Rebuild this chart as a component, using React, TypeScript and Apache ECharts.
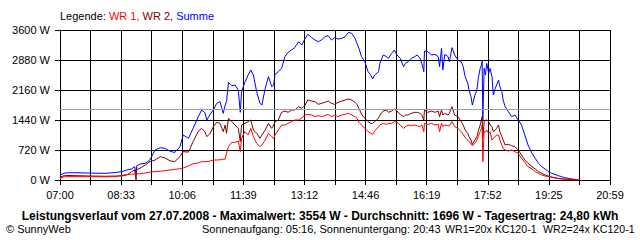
import React, { useEffect, useRef } from "react";
import * as echarts from "echarts";

// Time stamps of the measured values (local time)
const times = [
  "07:00", "07:08", "07:23", "07:48", "08:09", "08:25", "08:34", "08:42", "08:49", "08:54",
  "08:56", "08:57", "09:02", "09:10", "09:17", "09:25", "09:33", "09:40", "09:48", "09:55",
  "10:03", "10:08", "10:16", "10:23", "10:31", "10:36", "10:41", "10:44", "10:49", "10:54",
  "10:59", "11:04", "11:07", "11:09", "11:12", "11:14", "11:17", "11:22", "11:27", "11:32",
  "11:35", "11:37", "11:42", "11:47", "11:51", "11:55", "12:00", "12:05", "12:08", "12:13",
  "12:18", "12:23", "12:26", "12:28", "12:33", "12:38", "12:43", "12:48", "12:53", "12:58",
  "13:04", "13:09", "13:14", "13:18", "13:24", "13:29", "13:34", "13:39", "13:44", "13:49",
  "13:54", "13:59", "14:04", "14:10", "14:15", "14:20", "14:25", "14:30", "14:33", "14:36",
  "14:40", "14:45", "14:50", "14:54", "14:57", "15:00", "15:06", "15:08", "15:13", "15:18",
  "15:21", "15:26", "15:30", "15:34", "15:39", "15:44", "15:47", "15:51", "15:56", "16:01",
  "16:05", "16:09", "16:12", "16:15", "16:16", "16:21", "16:27", "16:32", "16:37", "16:39",
  "16:42", "16:44", "16:47", "16:52", "16:54", "16:58", "17:02", "17:07", "17:12", "17:15",
  "17:18", "17:22", "17:24", "17:27", "17:29", "17:33", "17:36", "17:38", "17:41", "17:43",
  "17:44", "17:45", "17:47", "17:49", "17:51", "17:54", "17:56", "17:59", "18:01", "18:04",
  "18:06", "18:09", "18:11", "18:14", "18:16", "18:19", "18:24", "18:29", "18:34", "18:39",
  "18:44", "18:49", "18:54", "19:00", "19:05", "19:10", "19:15", "19:20", "19:25", "19:30",
  "19:35", "19:40", "19:45", "19:50", "19:55", "20:01", "20:06", "20:11",
];

// WR 1 (W)
const wr1 = [
  50, 80, 80, 80, 75, 80, 110, 130, 140, 140,
  120, 145, 150, 170, 190, 200, 210, 225, 240, 255,
  270, 290, 336, 390, 410, 440, 440, 440, 456, 480,
  480, 485, 490, 500, 500, 640, 800, 904, 904, 936,
  680, 1000, 1160, 1080, 1240, 1040, 880, 800, 840, 960,
  1120, 1040, 1000, 1080, 1200, 1320, 1320, 1360, 1400, 1440,
  1440, 1496, 1560, 1576, 1560, 1520, 1544, 1520, 1544, 1576,
  1520, 1560, 1520, 1560, 1576, 1600, 1560, 1520, 1480, 1384,
  1320, 1240, 1160, 1120, 1096, 1176, 1280, 1320, 1360, 1336,
  1360, 1360, 1400, 1384, 1320, 1240, 1280, 1320, 1304, 1320,
  1304, 1280, 1320, 1160, 1360, 1336, 1360, 1320, 1336, 1160,
  1360, 1280, 1320, 1304, 1300, 1400, 1280, 1240, 1160, 1096,
  1016, 960, 920, 880, 824, 880, 960, 1040, 1160, 1240,
  1320, 440, 1160, 1150, 1200, 1120, 1160, 960, 1000, 1040,
  1080, 1080, 960, 840, 760, 720, 696, 720, 680, 640,
  520, 424, 320, 264, 200, 160, 120, 96, 80, 64,
  48, 32, 24, 16, 8, 0, 0, 0,
];

// WR 2 (W)
const wr2 = [
  70, 110, 105, 95, 90, 95, 100, 120, 200, 240,
  0, 250, 280, 360, 440, 480, 560, 530, 460, 440,
  560, 680, 670, 920, 1170, 1240, 1160, 1040, 1120, 1280,
  1384, 1360, 1240, 1160, 1320, 1120, 1480, 1400, 1320, 1240,
  920, 1320, 1360, 1400, 1440, 1200, 1120, 1000, 1080, 1200,
  1360, 1240, 1320, 1400, 1440, 1624, 1656, 1624, 1680, 1680,
  1760, 1720, 1800, 1920, 1896, 1880, 1816, 1840, 1864, 1896,
  1840, 1816, 1864, 1896, 1920, 1944, 1920, 1864, 1816, 1720,
  1576, 1480, 1400, 1360, 1360, 1400, 1480, 1560, 1656, 1680,
  1624, 1656, 1704, 1656, 1576, 1520, 1560, 1560, 1600, 1624,
  1624, 1600, 1560, 1440, 1680, 1624, 1656, 1624, 1656, 1520,
  1680, 1560, 1600, 1560, 1600, 1760, 1560, 1520, 1400, 1320,
  1200, 1120, 1040, 960, 856, 960, 1040, 1176, 1320, 1440,
  1520, 1000, 1400, 1440, 1440, 1400, 1320, 1280, 1160, 1200,
  1240, 1320, 1160, 1040, 960, 840, 856, 824, 800, 720,
  600, 480, 400, 320, 264, 200, 160, 120, 96, 72,
  56, 40, 32, 24, 16, 8, 0, 0,
];

// Summe (W)
const summe = [
  120, 170, 175, 165, 160, 180, 200, 240, 264, 320,
  140, 340, 384, 400, 480, 720, 776, 760, 690, 660,
  800, 1080, 1000, 1240, 1520, 1680, 1616, 1440, 1576, 1680,
  1840, 1880, 1720, 1600, 1800, 1880, 2344, 2264, 2280, 2160,
  1624, 2120, 2344, 2520, 2640, 2520, 2120, 1840, 1800, 2200,
  2480, 2240, 2280, 2536, 2600, 2680, 2960, 3064, 3120, 3176,
  3320, 3240, 3400, 3496, 3416, 3360, 3320, 3360, 3440, 3464,
  3360, 3416, 3384, 3400, 3440, 3544, 3520, 3400, 3280, 3160,
  2960, 2840, 2600, 2520, 2424, 2520, 2600, 2800, 3000, 2960,
  2920, 3040, 3120, 3000, 2920, 2720, 2800, 2840, 2920, 2960,
  3000, 2920, 2800, 2600, 3096, 3080, 3000, 3016, 2960, 2720,
  3160, 2640, 3016, 2960, 2840, 3176, 3000, 2880, 2840, 2720,
  2480, 2320, 2160, 2000, 1800, 2040, 2160, 2440, 2680, 2760,
  2856, 1440, 2680, 2520, 2800, 2560, 2680, 2480, 2040, 2200,
  2280, 2400, 2240, 2120, 1920, 1760, 1640, 1520, 1560, 1440,
  1320, 1080, 840, 640, 520, 400, 320, 264, 200, 160,
  136, 104, 80, 56, 40, 24, 16, 0,
];

const average = 1696;
const dayStart = "07:00";
const dayEnd = "20:59";
const yMax = 3600;
const yStep = 720;

const legendLabel = "Legende: ";
const seriesNames = ["WR 1", "WR 2", "Summe"];
const titleText =
  "Leistungsverlauf vom 27.07.2008 - Maximalwert: 3554 W - Durchschnitt: 1696 W - Tagesertrag: 24,80 kWh";
const footerLeft = "© SunnyWeb";
const footerSun = "Sonnenaufgang: 05:16, Sonnenuntergang: 20:43";
const footerWr1 = "WR1=20x KC120-1";
const footerWr2 = "WR2=24x KC120-1";

const FONT = "'Liberation Sans', Arial, sans-serif";

const toAbs = (t: string) => {
  const [h, m] = t.split(":").map(Number);
  return h * 60 + m;
};
const startAbs = toAbs(dayStart);
const span = toAbs(dayEnd) - startAbs;
const xStep = span / 18;
const pad = (n: number) => (n < 10 ? "0" + n : "" + n);

export default function App() {
  const ref = useRef<HTMLDivElement>(null);

  useEffect(() => {
    if (!ref.current) return;
    const chart = echarts.init(ref.current, undefined, { renderer: "svg" });
    const pts = (vals: number[]) => times.map((t, i) => [toAbs(t) - startAbs, vals[i]]);
    const line = (name: string, vals: number[], color: string, extra: any = {}) => ({
      name,
      type: "line",
      data: pts(vals),
      showSymbol: false,
      symbol: "none",
      lineStyle: { color, width: 1 },
      itemStyle: { color },
      emphasis: { disabled: true },
      silent: true,
      ...extra,
    });
    const footText = (text: string, x: number, size = 11) => ({
      type: "text",
      x,
      y: 229,
      silent: true,
      style: {
        text,
        font: size + "px " + FONT,
        fill: "#000",
        textAlign: "left",
        align: "left",
        textVerticalAlign: "middle",
        verticalAlign: "middle",
      },
    });

    chart.setOption({
      animation: false,
      backgroundColor: "#ffffff",
      textStyle: { fontFamily: FONT },
      grid: { left: 60, right: 30, top: 30, bottom: 60, containLabel: false },
      xAxis: {
        type: "value",
        min: 0,
        max: span,
        interval: xStep,
        axisLine: { show: true, lineStyle: { color: "#000", width: 1 } },
        axisTick: { show: true, length: 5, lineStyle: { color: "#000" } },
        splitLine: { show: true, lineStyle: { color: "#000", width: 1 } },
        axisLabel: {
          color: "#000",
          fontSize: 11,
          fontFamily: FONT,
          margin: 9,
          showMinLabel: true,
          showMaxLabel: true,
          hideOverlap: false,
          formatter: (v: number) => {
            const idx = Math.round(v / xStep);
            if (idx % 2 !== 0) return "";
            const tot = startAbs + Math.floor(v + 1e-6);
            return pad(Math.floor(tot / 60)) + ":" + pad(tot % 60);
          },
        },
      },
      yAxis: {
        type: "value",
        min: 0,
        max: yMax,
        interval: yStep,
        axisLine: { show: true, lineStyle: { color: "#000", width: 1 } },
        axisTick: { show: true, length: 5, lineStyle: { color: "#000" } },
        splitLine: { show: true, lineStyle: { color: "#000", width: 1 } },
        axisLabel: {
          color: "#000",
          fontSize: 11,
          fontFamily: FONT,
          margin: 10,
          formatter: (v: number) => v + " W",
        },
      },
      series: [
        line(seriesNames[2], summe, "#0000ff", {
          markLine: {
            silent: true,
            symbol: ["none", "none"],
            label: { show: false },
            lineStyle: { color: "#a0a0a0", type: "solid", width: 1 },
            emphasis: { disabled: true },
            data: [{ yAxis: average }],
          },
        }),
        line(seriesNames[1], wr2, "#800000"),
        line(seriesNames[0], wr1, "#ff0000"),
      ],
      graphic: [
        {
          type: "text",
          x: 60,
          y: 16,
          silent: true,
          style: {
            text:
              "{k|" + legendLabel + "}{a|" + seriesNames[0] + ", }{b|" + seriesNames[1] + ", }{c|" + seriesNames[2] + "}",
            font: "11px " + FONT,
            textAlign: "left",
            align: "left",
            textVerticalAlign: "middle",
            verticalAlign: "middle",
            rich: {
              k: { fill: "#000000", color: "#000000", fontSize: 11, fontFamily: FONT },
              a: { fill: "#ff0000", color: "#ff0000", fontSize: 11, fontFamily: FONT },
              b: { fill: "#800000", color: "#800000", fontSize: 11, fontFamily: FONT },
              c: { fill: "#0000ff", color: "#0000ff", fontSize: 11, fontFamily: FONT },
            },
          },
        },
        {
          type: "text",
          x: 320,
          y: 216,
          silent: true,
          style: {
            text: titleText,
            font: "bold 12px " + FONT,
            fill: "#000",
            textAlign: "center",
            align: "center",
            textVerticalAlign: "middle",
            verticalAlign: "middle",
          },
        },
        footText(footerLeft, 6),
        footText(footerSun, 202),
        footText(footerWr1, 445, 10.6),
        footText(footerWr2, 543, 10.6),
      ],
    });
    return () => chart.dispose();
  }, []);

  return (
    <div
      ref={ref}
      style={{ position: "fixed", left: 0, top: 0, width: 640, height: 240, background: "#fff" }}
    />
  );
}
